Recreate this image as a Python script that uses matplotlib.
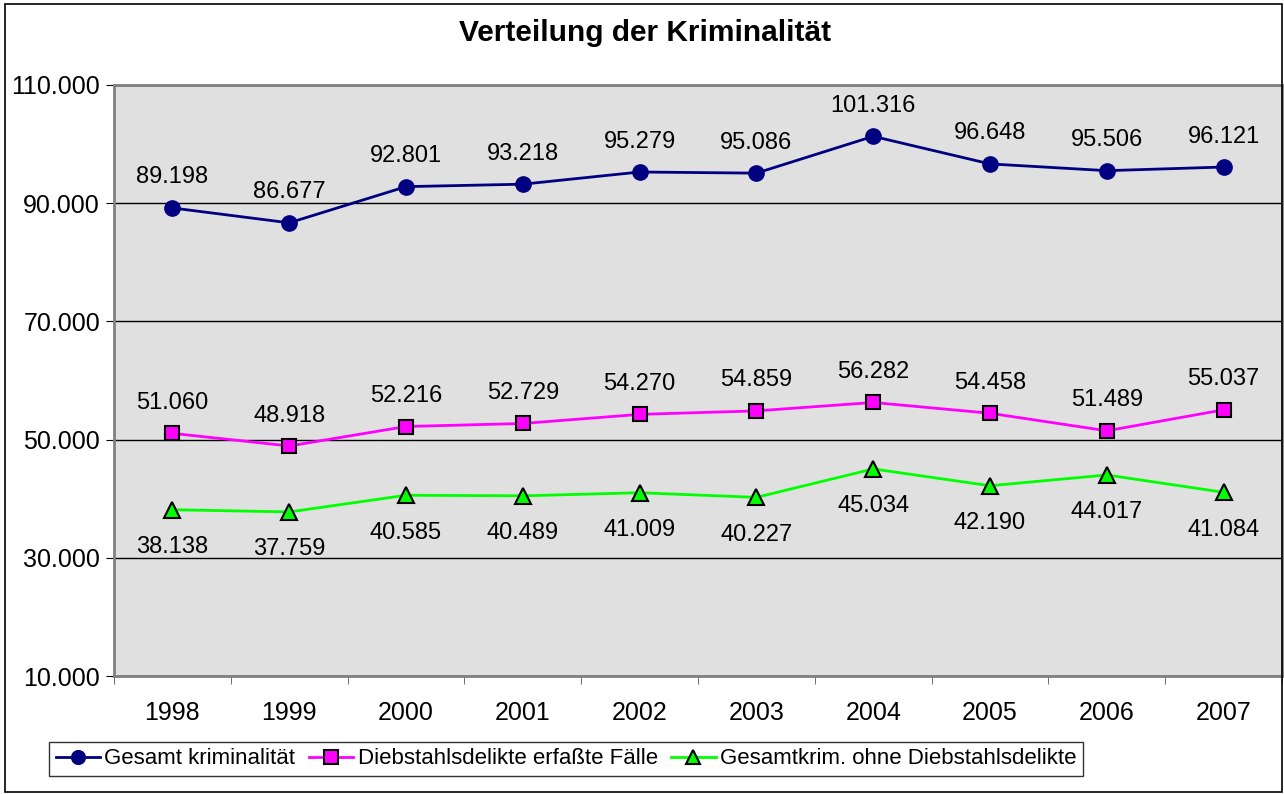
import matplotlib
matplotlib.use("Agg")
import matplotlib.pyplot as plt
from matplotlib.patches import Rectangle
from matplotlib.ticker import FixedLocator, FuncFormatter

years = ["1998", "1999", "2000", "2001", "2002", "2003", "2004", "2005", "2006", "2007"]
gesamt = [89198, 86677, 92801, 93218, 95279, 95086, 101316, 96648, 95506, 96121]
diebstahl = [51060, 48918, 52216, 52729, 54270, 54859, 56282, 54458, 51489, 55037]
ohne = [38138, 37759, 40585, 40489, 41009, 40227, 45034, 42190, 44017, 41084]
series_names = ["Gesamt kriminalität", "Diebstahlsdelikte erfaßte Fälle",
                "Gesamtkrim. ohne Diebstahlsdelikte"]
yticks = [10000, 30000, 50000, 70000, 90000, 110000]

plt.rcParams['font.family'] = ['Liberation Sans', 'DejaVu Sans']

fig = plt.figure(figsize=(12.84, 7.94), dpi=100)
W, H = 1284, 794
ax = fig.add_axes([114 / W, 1 - 676 / H, (1282 - 114) / W, (676 - 85) / H])
ax.set_facecolor('#e0e0e0')

x = list(range(len(years)))

def fmt(v):
    return f"{v:,}".replace(",", ".")

ax.plot(x, gesamt, color='#000080', lw=2, marker='o', ms=11,
        mfc='#000080', mec='#000080', label=series_names[0], zorder=4)
ax.plot(x, diebstahl, color='#ff00ff', lw=2, marker='s', ms=10.5,
        mfc='#ff00ff', mec='black', mew=1.5, label=series_names[1], zorder=4)
ax.plot(x, ohne, color='#00ff00', lw=2, marker='^', ms=11,
        mfc='#00ff00', mec='black', mew=1.5, label=series_names[2], zorder=4)

LFS = 17
for xi, v in zip(x, gesamt):
    ax.annotate(fmt(v), (xi, v), xytext=(0, 14), textcoords='offset points',
                ha='center', va='bottom', fontsize=LFS)
for xi, v in zip(x, diebstahl):
    ax.annotate(fmt(v), (xi, v), xytext=(0, 14), textcoords='offset points',
                ha='center', va='bottom', fontsize=LFS)
for xi, v in zip(x, ohne):
    ax.annotate(fmt(v), (xi, v), xytext=(0, -19), textcoords='offset points',
                ha='center', va='top', fontsize=LFS)

ax.set_ylim(10000, 110000)
ax.set_yticks(yticks)
ax.yaxis.set_major_formatter(FuncFormatter(lambda v, p: fmt(int(v))))
ax.set_xlim(-0.5, len(years) - 0.5)
ax.set_xticks(x)
ax.set_xticklabels(years)
ax.xaxis.set_minor_locator(FixedLocator([i - 0.5 for i in range(len(years) + 1)]))
ax.tick_params(axis='x', which='major', length=0, pad=18, labelsize=18)
ax.tick_params(axis='x', which='minor', length=6, direction='out', color='#555555')
ax.tick_params(axis='y', length=6, direction='out', labelsize=18, pad=4)
ax.grid(axis='y', color='black', lw=1)
ax.set_axisbelow(True)
for s in ax.spines.values():
    s.set_color('#808080')
    s.set_linewidth(2)

fig.text(645 / W, 1 - 33 / H, "Verteilung der Kriminalität", ha='center', va='center',
         fontsize=21.5, fontweight='bold')

leg = fig.legend(loc='center', bbox_to_anchor=(566 / W, 1 - 759 / H), ncol=3,
                 fontsize=16, frameon=True, fancybox=False, edgecolor='black',
                 handlelength=2.0, handletextpad=0.2, columnspacing=0.6,
                 borderpad=0.3, markerscale=0.9)
leg.get_frame().set_linewidth(1)

fig.patches.append(Rectangle((5 / W, 2 / H), (1282 - 5) / W, (790 - 2) / H,
                             transform=fig.transFigure, fill=False,
                             edgecolor='black', lw=1.2))

fig.savefig("out.png", dpi=100)
